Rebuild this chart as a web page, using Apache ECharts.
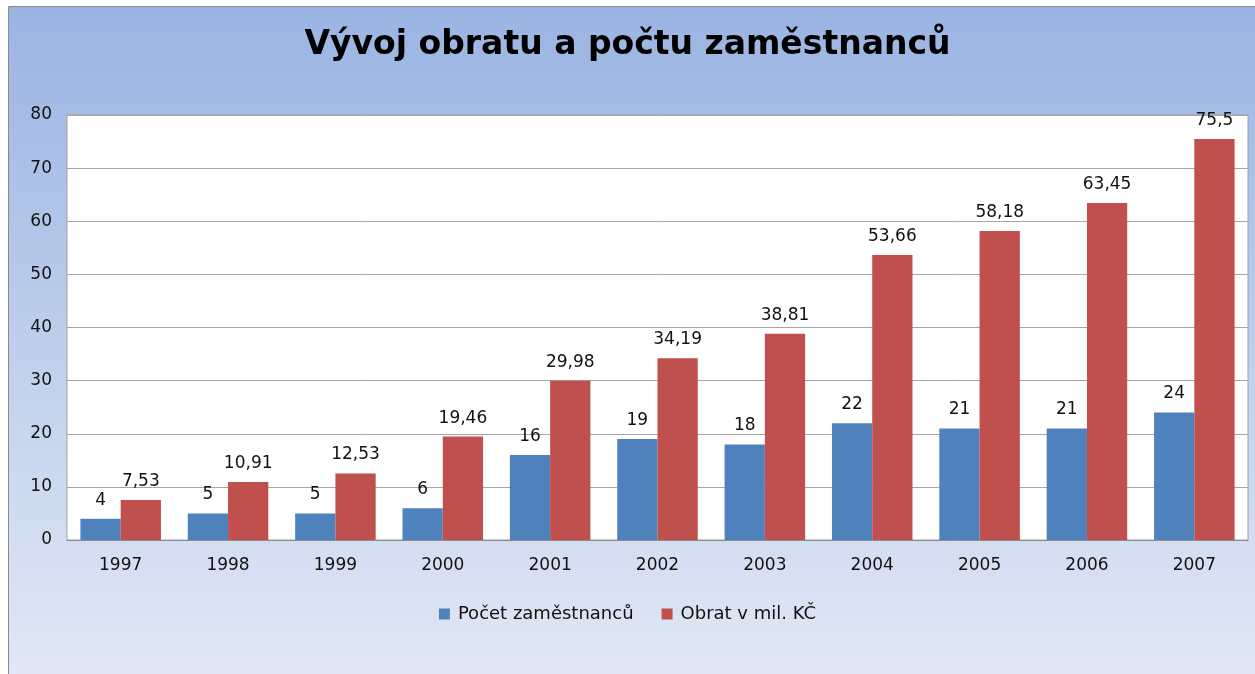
<!DOCTYPE html>
<html>
<head>
<meta charset="utf-8">
<script src="https://cdn.jsdelivr.net/npm/echarts@6/dist/echarts.min.js"></script>
<style>
  html, body { margin: 0; padding: 0; background: #fff; }
  #chart { width: 1255px; height: 674px; }
</style>
</head>
<body>
<div id="chart"></div>
<script>
const years = ['1997', '1998', '1999', '2000', '2001', '2002', '2003', '2004', '2005', '2006', '2007'];
const employees = [4, 5, 5, 6, 16, 19, 18, 22, 21, 21, 24];
const turnover = [7.53, 10.91, 12.53, 19.46, 29.98, 34.19, 38.81, 53.66, 58.18, 63.45, 75.5];
const seriesNames = ['Počet zaměstnanců', 'Obrat v mil. KČ'];

const font = 'DejaVu Sans, Arial, sans-serif';
const fmt = p => String(p.value).replace('.', ',');

const chart = echarts.init(document.getElementById('chart'));

const labelStyle = {
  show: true,
  position: 'top',
  distance: 10,
  fontFamily: font,
  fontSize: 17,
  color: '#111',
  formatter: fmt,
};

chart.setOption({
  animation: false,
  graphic: [
    {
      type: 'rect',
      z: -10,
      silent: true,
      shape: { x: 8.5, y: 6.5, width: 1260, height: 680 },
      style: {
        fill: new echarts.graphic.LinearGradient(0, 0, 0, 1, [
          { offset: 0, color: '#9ab4e2' },
          { offset: 1, color: '#e3e9f5' },
        ]),
        stroke: '#8a8a8a',
        lineWidth: 1,
      },
    },
  ],
  title: {
    text: 'Vývoj obratu a počtu zaměstnanců',
    left: 'center',
    top: 24,
    textStyle: {
      fontFamily: font,
      fontSize: 33,
      fontWeight: 'bold',
      color: '#000',
    },
  },
  legend: {
    bottom: 46,
    left: 'center',
    itemWidth: 11,
    itemHeight: 11,
    itemGap: 28,
    icon: 'rect',
    textStyle: { fontFamily: font, fontSize: 18, color: '#111', padding: [0, 0, 0, 3] },
    data: seriesNames,
  },
  grid: {
    left: 67,
    right: 7,
    top: 115,
    bottom: 134,
    show: true,
    backgroundColor: '#fff',
    borderColor: '#a0a0a0',
    borderWidth: 1,
  },
  xAxis: {
    type: 'category',
    data: years,
    axisTick: { show: false },
    axisLine: { lineStyle: { color: '#8c8c8c' } },
    axisLabel: { fontFamily: font, fontSize: 17, color: '#111', margin: 17 },
  },
  yAxis: {
    type: 'value',
    min: 0,
    max: 80,
    interval: 10,
    axisLine: { show: false },
    axisTick: { show: false },
    axisLabel: { fontFamily: font, fontSize: 17, color: '#111', margin: 15 },
    splitLine: { lineStyle: { color: '#a6a6a6' } },
  },
  series: [
    {
      name: seriesNames[0],
      type: 'bar',
      data: employees,
      barGap: '0%',
      barCategoryGap: '25%',
      itemStyle: { color: '#4f81bd' },
      label: labelStyle,
    },
    {
      name: seriesNames[1],
      type: 'bar',
      data: turnover,
      itemStyle: { color: '#c0504d' },
      label: labelStyle,
    },
  ],
});
</script>
</body>
</html>
